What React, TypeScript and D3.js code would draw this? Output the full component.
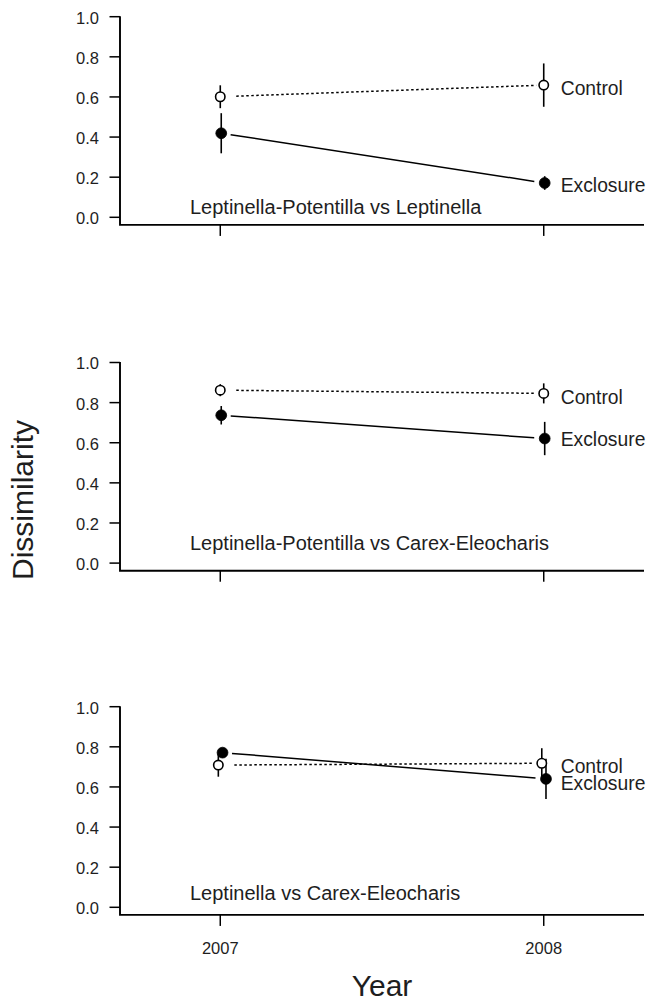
import React from "react";
import * as d3 from "d3";

// ---- data ----
const YEARS = [2007, 2008];
const PANEL_TITLES = [
  "Leptinella-Potentilla vs Leptinella",
  "Leptinella-Potentilla vs Carex-Eleocharis",
  "Leptinella vs Carex-Eleocharis",
];
const CONTROL_MEAN = [
  [0.601, 0.659],
  [0.862, 0.846],
  [0.709, 0.718],
];
const CONTROL_ERR = [
  [0.057, 0.108],
  [0.03, 0.05],
  [0.058, 0.075],
];
const EXCL_MEAN = [
  [0.419, 0.171],
  [0.737, 0.621],
  [0.771, 0.64],
];
const EXCL_ERR = [
  [0.1, 0.034],
  [0.046, 0.083],
  [0.02, 0.1],
];
// small horizontal dodge of the series (in years)
const CONTROL_DODGE = [0, 0, -0.006];
const EXCL_DODGE = [0.003, 0.003, 0.007];
const SERIES_LABELS = ["Control", "Exclosure"];
const LABEL_Y_CONTROL = [0.643, 0.827, 0.702];
const LABEL_Y_EXCL = [0.161, 0.617, 0.618];
const TITLE_Y = [0.053, 0.102, 0.07];
const Y_TICKS = [0, 0.2, 0.4, 0.6, 0.8, 1.0];
const X_DOMAIN = [2006.69, 2008.31];
const Y_AXIS_MIN = -0.038;

const W = 648;
const H = 1001;
const PANEL_TOPS = [16.7, 362.5, 706.7];
const PANEL_H = 200.6;
const FONT = "'Liberation Sans', Arial, Helvetica, sans-serif";
const INK = "#1e1e1e";

const x = d3.scaleLinear().domain(X_DOMAIN).range([120, 644]);

function gapSegment(x1: number, y1: number, x2: number, y2: number, g1: number, g2: number) {
  const dx = x2 - x1;
  const dy = y2 - y1;
  const len = Math.hypot(dx, dy);
  const ux = dx / len;
  const uy = dy / len;
  return [
    [x1 + ux * g1, y1 + uy * g1],
    [x2 - ux * g2, y2 - uy * g2],
  ] as [number, number][];
}

function Panel({ i }: { i: number }) {
  const top = PANEL_TOPS[i];
  const y = d3.scaleLinear().domain([0, 1]).range([top + PANEL_H, top]);
  const yb = y(Y_AXIS_MIN);
  const line = d3.line();
  const isLast = i === PANEL_TOPS.length - 1;

  const cx = YEARS.map((yr) => x(yr + CONTROL_DODGE[i]));
  const ex = YEARS.map((yr) => x(yr + EXCL_DODGE[i]));
  const cy = CONTROL_MEAN[i].map((v) => y(v));
  const ey = EXCL_MEAN[i].map((v) => y(v));

  const ctrlSeg = gapSegment(cx[0], cy[0], cx[1], cy[1], 16, 7.5);
  const exclSeg = gapSegment(ex[0], ey[0], ex[1], ey[1], 9.5, 10.5);

  return (
    <g>
      {/* axes */}
      <path
        d={`M${x.range()[0]},${y(1) - 0.5}V${yb}H${x.range()[1]}`}
        fill="none"
        stroke="#000"
        strokeWidth={1.9}
      />
      {Y_TICKS.map((t) => (
        <g key={t}>
          <line x1={x.range()[0] - 10.5} x2={x.range()[0]} y1={y(t)} y2={y(t)} stroke="#000" strokeWidth={1.5} />
          <text
            x={99}
            y={y(t) + 6.9}
            textAnchor="end"
            fontSize={16.5}
            fontFamily={FONT}
            fill={INK}
          >
            {d3.format(".1f")(t)}
          </text>
        </g>
      ))}
      {YEARS.map((yr) => (
        <g key={yr}>
          <line x1={x(yr)} x2={x(yr)} y1={yb} y2={yb + 11} stroke="#000" strokeWidth={1.5} />
          {isLast && (
            <text
              x={x(yr)}
              y={yb + 39}
              textAnchor="middle"
              fontSize={16.5}
              fontFamily={FONT}
              fill={INK}
            >
              {yr}
            </text>
          )}
        </g>
      ))}

      {/* connecting lines */}
      <path d={line(ctrlSeg) || ""} fill="none" stroke="#000" strokeWidth={1.5} strokeDasharray="2.5,2.5" />
      <path d={line(exclSeg) || ""} fill="none" stroke="#000" strokeWidth={1.5} />

      {/* error bars */}
      {YEARS.map((_, j) => (
        <g key={"eb" + j}>
          <line
            x1={ex[j]}
            x2={ex[j]}
            y1={y(EXCL_MEAN[i][j] - EXCL_ERR[i][j])}
            y2={y(EXCL_MEAN[i][j] + EXCL_ERR[i][j])}
            stroke="#000"
            strokeWidth={1.6}
          />
          <line
            x1={cx[j]}
            x2={cx[j]}
            y1={y(CONTROL_MEAN[i][j] - CONTROL_ERR[i][j])}
            y2={y(CONTROL_MEAN[i][j] + CONTROL_ERR[i][j])}
            stroke="#000"
            strokeWidth={1.6}
          />
        </g>
      ))}

      {/* points */}
      {YEARS.map((_, j) => (
        <g key={"pt" + j}>
          <circle cx={ex[j]} cy={ey[j]} r={5.4} fill="#000" stroke="#000" strokeWidth={0.8} />
          <circle cx={cx[j]} cy={cy[j]} r={4.7} fill="#fff" stroke="#000" strokeWidth={1.6} />
        </g>
      ))}

      {/* series labels */}
      <text
        x={x(YEARS[1]) + 17}
        y={y(LABEL_Y_CONTROL[i]) + 7}
        fontSize={19.3}
        fontFamily={FONT}
        fill={INK}
      >
        {SERIES_LABELS[0]}
      </text>
      <text
        x={x(YEARS[1]) + 17}
        y={y(LABEL_Y_EXCL[i]) + 7}
        fontSize={19.3}
        fontFamily={FONT}
        fill={INK}
      >
        {SERIES_LABELS[1]}
      </text>

      {/* panel title */}
      <text x={190} y={y(TITLE_Y[i]) + 7} fontSize={20} fontFamily={FONT} fill={INK}>
        {PANEL_TITLES[i]}
      </text>
    </g>
  );
}

export default function App() {
  return (
    <svg
      width={W}
      height={H}
      viewBox={`0 0 ${W} ${H}`}
      style={{ position: "absolute", left: 0, top: 0, background: "#fff" }}
    >
      <rect width={W} height={H} fill="#fff" />
      {PANEL_TOPS.map((_, i) => (
        <Panel key={i} i={i} />
      ))}
      <text
        x={(x.range()[0] + x.range()[1]) / 2}
        y={996}
        textAnchor="middle"
        fontSize={30}
        fontFamily={FONT}
        fill={INK}
      >
        Year
      </text>
      <text
        transform={`translate(33,500) rotate(-90)`}
        textAnchor="middle"
        fontSize={30}
        fontFamily={FONT}
        fill={INK}
      >
        Dissimilarity
      </text>
    </svg>
  );
}
